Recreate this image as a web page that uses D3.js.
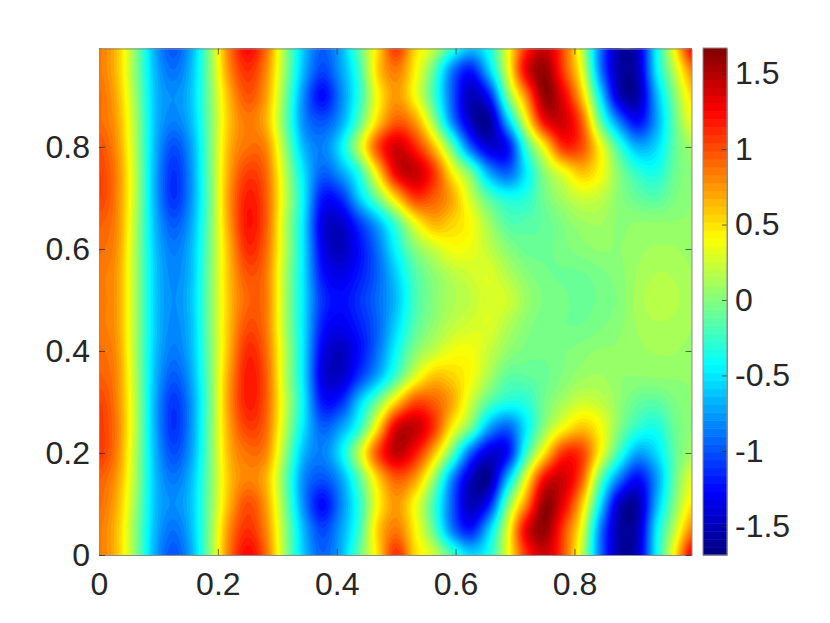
<!DOCTYPE html>
<html>
<head>
<meta charset="utf-8">
<script src="https://cdn.jsdelivr.net/npm/d3@7"></script>
<style>
  html, body { margin: 0; background: #fff; }
  text { font-family: "Liberation Sans", Arial, sans-serif; }
</style>
</head>
<body>
<svg id="chart" width="830" height="623"></svg>
<script>
// values, x = k/32, rows go top to bottom
var xValues = d3.range(33).map(function(k){ return k / 32; });
var yValues = [1, .95, .9, .85, .8, .75, .7, .65, .6, .55, .5, .45, .4, .35, .3, .25, .2, .15, .1, .05, 0];
var zRows = [
  [.85,.6,0,-.7,-1,-.68,.05,.85,1.25,.9,.1,-.6,-.95,-.7,-.1,.5,1.1,.55,.25,-.2,-.55,-.35,.35,1.1,1.4,1,.2,-.9,-1.55,-1.45,-.45,.45,1.35],
  [.85,.6,0,-.65,-.9,-.63,.03,.78,1.1,.8,.08,-.65,-1.05,-.75,-.25,.55,.85,.45,-.1,-.85,-1.2,-.6,.3,1.3,1.6,1.05,.35,-.85,-1.55,-1.5,-.5,.2,.85],
  [.9,.65,.05,-.62,-.8,-.6,0,.65,.98,.72,0,-.8,-1.25,-.85,-.3,.4,.75,.4,-.2,-.95,-1.5,-1.2,-.05,.8,1.6,1.3,.6,-.5,-1.45,-1.55,-.7,0,.55],
  [.9,.7,.1,-.62,-.85,-.63,-.02,.6,.85,.65,-.05,-.8,-1,-.75,-.15,.55,.95,.75,.1,-.8,-1.45,-1.6,-.65,.35,1.25,1.4,.95,-.1,-.85,-1.25,-.75,-.1,.38],
  [1,.75,.12,-.65,-1.02,-.72,-.03,.65,.88,.8,.08,-.65,-.85,-.5,.2,1,1.4,1.15,.65,-.1,-.95,-1.4,-1.25,-.25,.45,1.1,1,.4,-.25,-.68,-.55,-.12,.12],
  [1.05,.8,.15,-.68,-1.12,-.76,-.03,.7,1.05,.9,.2,-.5,-.95,-.75,-.3,.5,1.3,1.45,1.1,.45,-.05,-.72,-.95,-.48,.05,.35,.6,.4,0,-.28,-.35,-.08,.05],
  [1.05,.8,.15,-.68,-1.12,-.76,-.05,.75,1.17,.95,.25,-.45,-1.2,-1.15,-.6,-.05,.55,1.05,.95,.7,.25,-.15,-.35,-.3,-.05,.12,.25,.2,.02,-.1,-.15,-.02,.05],
  [.95,.78,.12,-.64,-.98,-.7,-.03,.72,1.2,.95,.2,-.5,-1.35,-1.45,-1.1,-.7,-.2,.35,.65,.55,.4,.1,-.15,-.15,-.1,0,.08,.1,.03,.05,.05,.05,.05],
  [.9,.75,.1,-.6,-.87,-.64,-.02,.65,1.12,.9,.2,-.5,-1.3,-1.5,-1.25,-.9,-.42,0,.22,.38,.35,.2,.02,-.08,-.08,-.03,.02,.05,.04,.08,.1,.1,.07],
  [.85,.72,.1,-.58,-.82,-.62,0,.62,.98,.85,.15,-.5,-1.2,-1.35,-1.2,-.95,-.58,-.18,.03,.17,.25,.3,.15,.02,-.05,-.07,-.07,-.03,.02,.1,.15,.14,.1],
  [.85,.72,.1,-.58,-.8,-.6,0,.6,.92,.85,.15,-.5,-1.1,-1.25,-1.12,-.92,-.64,-.22,0,.13,.2,.3,.25,.08,-.02,-.05,-.08,-.05,0,.12,.18,.16,.12],
  [.85,.72,.1,-.58,-.82,-.62,0,.62,1,.85,.15,-.5,-1.18,-1.32,-1.18,-.95,-.56,-.16,.05,.19,.27,.3,.15,.02,-.05,-.06,-.06,-.02,.03,.1,.14,.13,.1],
  [.9,.75,.1,-.6,-.87,-.64,-.02,.65,1.12,.9,.2,-.5,-1.3,-1.48,-1.25,-.9,-.42,0,.2,.36,.38,.22,.05,-.03,-.05,-.02,.02,.05,.05,.08,.1,.1,.07],
  [.95,.78,.12,-.64,-.98,-.7,-.03,.72,1.18,.95,.2,-.5,-1.35,-1.45,-1.1,-.7,-.2,.3,.6,.55,.4,.12,-.12,-.12,-.08,0,.08,.1,.05,.04,.05,.05,.05],
  [1.05,.8,.15,-.68,-1.1,-.76,-.05,.75,1.17,.95,.25,-.45,-1.2,-1.15,-.6,-.05,.55,1,.95,.7,.25,-.15,-.33,-.3,-.05,.12,.25,.2,.05,-.1,-.13,-.02,.05],
  [1.08,.82,.15,-.68,-1.12,-.76,-.03,.7,1.05,.9,.2,-.5,-.95,-.75,-.3,.5,1.35,1.45,1.1,.45,-.05,-.72,-.95,-.48,.05,.4,.6,.4,0,-.28,-.35,-.08,.05],
  [1.08,.8,.12,-.65,-1.02,-.72,-.03,.65,.88,.8,.08,-.65,-.85,-.5,.2,1,1.45,1.2,.65,-.1,-.95,-1.4,-1.25,-.25,.5,1.1,1.05,.4,-.25,-.72,-.55,-.12,.12],
  [.95,.72,.1,-.62,-.88,-.63,-.02,.6,.82,.65,-.05,-.8,-1,-.75,-.15,.55,.95,.75,.1,-.8,-1.45,-1.6,-.65,.35,1.25,1.4,.95,-.1,-.85,-1.25,-.78,-.1,.35],
  [.9,.65,.05,-.62,-.8,-.6,0,.65,1,.72,0,-.8,-1.25,-.85,-.3,.4,.75,.4,-.2,-.95,-1.5,-1.2,-.05,.8,1.6,1.3,.6,-.5,-1.45,-1.55,-.7,0,.5],
  [.85,.6,0,-.65,-.9,-.63,.03,.78,1.1,.8,.08,-.65,-1.05,-.75,-.25,.55,.85,.45,-.1,-.85,-1.2,-.6,.3,1.3,1.6,1.05,.35,-.85,-1.55,-1.5,-.5,.2,.85],
  [.85,.6,0,-.7,-1,-.68,.05,.85,1.25,.9,.1,-.6,-.95,-.7,-.1,.5,1.1,.55,.25,-.2,-.55,-.35,.35,1.1,1.4,1,.2,-.9,-1.55,-1.45,-.45,.45,1.35]
];
var xTicks = [0, .2, .4, .6, .8];
var yTicks = [0, .2, .4, .6, .8];
var barTicks = [-1.5, -1, -.5, 0, .5, 1, 1.5];
var zMin = -1.69, zMax = 1.67, nLevels = 64;

var svg = d3.select("#chart");
var x = d3.scaleLinear().domain([0, .997]).range([99, 691.5]);
var y = d3.scaleLinear().domain([0, .993]).range([555, 48.5]);
var barY = d3.scaleLinear().domain([zMin, zMax]).range([555, 48]);

var jet = d3.scaleLinear()
  .domain([0, .125, .375, .625, .875, 1])
  .range(["#00007f", "#0000ff", "#00ffff", "#ffff00", "#ff0000", "#7f0000"]);

var levels = d3.range(nLevels).map(function(i){ return zMin + i * (zMax - zMin) / nLevels; });
function bandColor(i){ return jet((i + .5) / nLevels); }

// catmull-rom so the contours come out round instead of following the coarse grid
function cr(a, b, c, d, t){
  return .5 * (2*b + (c-a)*t + (2*a-5*b+4*c-d)*t*t + (3*b-a-3*c+d)*t*t*t);
}
var f = 6,
    nx = xValues.length, ny = yValues.length,
    gw = (nx-1)*f + 1, gh = (ny-1)*f + 1,
    fine = new Float64Array(gw*gh);
function at(j, i){
  return zRows[Math.max(0, Math.min(ny-1, j))][Math.max(0, Math.min(nx-1, i))];
}
for(var gy = 0; gy < gh; gy++){
  var j = Math.min(ny-2, Math.floor(gy/f)), v = gy/f - j;
  for(var gx = 0; gx < gw; gx++){
    var i = Math.min(nx-2, Math.floor(gx/f)), u = gx/f - i, col = [];
    for(var k = -1; k <= 2; k++){
      col.push(cr(at(j-1,i+k), at(j,i+k), at(j+1,i+k), at(j+2,i+k), v));
    }
    fine[gy*gw+gx] = cr(col[0], col[1], col[2], col[3], u);
  }
}

var gridX = d3.scaleLinear().domain([.5, gw-.5]).range([0, 1]),
    gridY = d3.scaleLinear().domain([.5, gh-.5]).range([1, 0]);
var path = d3.geoPath(d3.geoTransform({
  point: function(px, py){ this.stream.point(x(gridX(px)), y(gridY(py))); }
}));
var contours = d3.contours().size([gw, gh]).thresholds(levels)(fine);

svg.append("defs").append("clipPath").attr("id", "plotClip")
  .append("rect")
  .attr("x", x(0)).attr("y", y(.993))
  .attr("width", x(.997)-x(0)).attr("height", y(0)-y(.993));

svg.append("g").attr("clip-path", "url(#plotClip)")
  .selectAll("path")
  .data(contours)
  .enter().append("path")
  .attr("d", path)
  .attr("fill", function(d, idx){ return bandColor(idx); });

// colour bar, one rect per level
svg.append("g").selectAll("rect")
  .data(levels)
  .enter().append("rect")
  .attr("x", 703)
  .attr("width", 24)
  .attr("y", function(d){ return barY(d + (zMax-zMin)/nLevels); })
  .attr("height", function(d){ return barY(d) - barY(d + (zMax-zMin)/nLevels) + .5; })
  .attr("fill", function(d, idx){ return bandColor(idx); });

function styleAxis(g){
  g.select(".domain").attr("stroke", "#8c8c8c").attr("stroke-width", 1);
  g.selectAll(".tick line").attr("stroke", "#262626").attr("stroke-width", .7);
  g.selectAll(".tick text")
    .attr("fill", "#262626")
    .style("font-size", "32px")
    .style("font-family", '"Liberation Sans", Arial, sans-serif');
}
var fmt = function(d){ return String(+d.toFixed(1)); };

svg.append("g").attr("transform", "translate(0," + y(0) + ")")
  .call(d3.axisBottom(x).tickValues(xTicks).tickSizeInner(-6).tickSizeOuter(0).tickPadding(17).tickFormat(fmt))
  .call(styleAxis);
svg.append("g").attr("transform", "translate(0," + y(.993) + ")")
  .call(d3.axisTop(x).tickValues(xTicks).tickSizeInner(-6).tickSizeOuter(0).tickFormat(""))
  .call(styleAxis);
svg.append("g").attr("transform", "translate(" + x(0) + ",0)")
  .call(d3.axisLeft(y).tickValues(yTicks).tickSizeInner(-6).tickSizeOuter(0).tickPadding(9).tickFormat(fmt))
  .call(styleAxis);
svg.append("g").attr("transform", "translate(" + x(.997) + ",0)")
  .call(d3.axisRight(y).tickValues(yTicks).tickSizeInner(-6).tickSizeOuter(0).tickFormat(""))
  .call(styleAxis);

svg.append("g").attr("transform", "translate(727,0)")
  .call(d3.axisRight(barY).tickValues(barTicks).tickSizeInner(-5).tickSizeOuter(0).tickPadding(8).tickFormat(fmt))
  .call(styleAxis);
svg.append("rect")
  .attr("x", 703).attr("y", 48).attr("width", 24).attr("height", 507)
  .attr("fill", "none").attr("stroke", "#8c8c8c");
</script>
</body>
</html>
